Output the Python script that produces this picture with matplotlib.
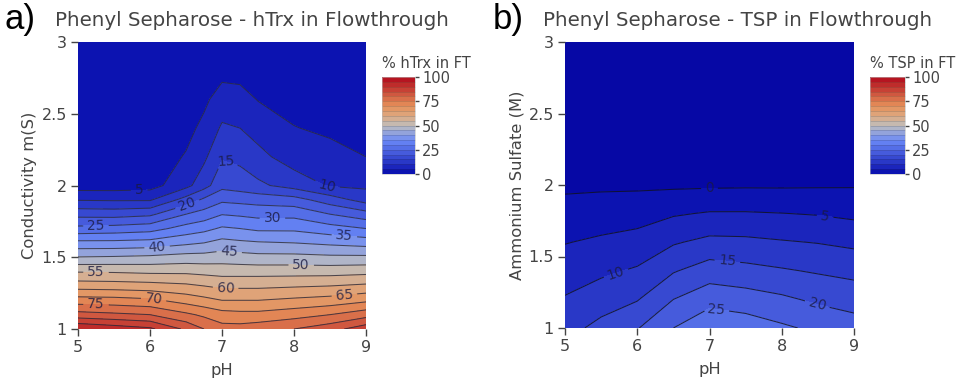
import numpy as np
import matplotlib
matplotlib.use("Agg")
import matplotlib.pyplot as plt
from matplotlib.colors import LinearSegmentedColormap, ListedColormap, BoundaryNorm
from matplotlib.cm import ScalarMappable

# ── Data ──────────────────────────────────────────────────────────────────────
PH_A = [5, 5.5, 6, 6.5, 6.75, 7, 7.25, 7.5, 8, 8.5, 9]
COND_A = [1.0, 1.1, 1.2, 1.3, 1.4, 1.5, 1.6, 1.7, 1.8, 1.9, 2.0, 2.2, 2.4, 2.6, 2.8, 3.0]
HTRX_FT = [
    [95.0, 93.0, 91.0, 84.0, 80.0, 77.0, 77.0, 78.0, 80.0, 83.0, 88.0],
    [82.0, 81.0, 80.0, 76.0, 74.0, 72.0, 71.5, 71.5, 73.0, 75.0, 78.0],
    [72.3, 72.0, 71.0, 68.0, 66.5, 65.0, 65.0, 65.0, 66.0, 67.0, 69.0],
    [62.8, 62.5, 62.0, 61.0, 60.0, 59.0, 59.0, 59.0, 59.5, 60.0, 61.0],
    [54.7, 54.5, 54.0, 54.0, 53.5, 53.0, 53.0, 53.0, 53.0, 53.0, 53.5],
    [45.2, 45.5, 46.0, 47.0, 47.0, 47.5, 47.0, 46.5, 46.5, 46.0, 46.0],
    [36.5, 36.5, 37.0, 39.0, 40.0, 41.7, 41.0, 40.5, 40.0, 39.0, 38.0],
    [26.4, 27.0, 28.0, 32.0, 33.5, 35.7, 35.0, 34.0, 34.0, 32.0, 30.0],
    [18.3, 18.0, 19.0, 25.0, 27.0, 29.8, 29.2, 28.5, 28.5, 25.0, 22.0],
    [9.7, 9.5, 9.5, 17.0, 21.0, 24.0, 23.5, 23.0, 22.0, 17.5, 13.0],
    [2.5, 2.5, 3.0, 8.5, 13.0, 18.5, 17.5, 16.0, 13.0, 9.5, 9.0],
    [2.0, 2.0, 2.0, 5.4, 9.0, 14.5, 13.8, 11.5, 7.5, 6.8, 5.0],
    [1.5, 1.5, 1.5, 3.5, 6.2, 10.7, 10.0, 8.0, 5.2, 4.0, 3.0],
    [1.0, 1.0, 1.0, 2.0, 4.0, 7.2, 6.8, 4.8, 3.0, 2.5, 2.0],
    [1.0, 1.0, 1.0, 1.5, 2.0, 3.5, 3.3, 2.5, 1.5, 1.5, 1.0],
    [1.0, 1.0, 1.0, 1.0, 1.0, 1.5, 1.2, 1.0, 1.0, 1.0, 1.0],
]

PH_B = [5, 5.5, 6, 6.5, 7, 7.5, 8, 8.5, 9]
AMSULF_B = [1.0, 1.2, 1.4, 1.6, 1.8, 2.0, 2.2, 2.6, 3.0]
TSP_FT = [
    [13.2, 16.5, 19.7, 25.0, 29.0, 27.8, 25.8, 24.0, 22.3],
    [10.4, 12.6, 14.7, 20.0, 23.2, 22.3, 20.9, 19.1, 17.9],
    [7.6, 9.1, 10.6, 14.6, 17.4, 16.5, 15.5, 14.5, 13.6],
    [4.8, 5.8, 6.8, 9.5, 11.3, 11.1, 10.4, 9.8, 8.9],
    [1.9, 2.5, 3.0, 4.5, 5.4, 5.4, 5.1, 4.7, 3.9],
    [-0.9, -0.8, -0.8, -0.8, -0.7, -0.6, -0.6, -0.5, -0.4],
    [-2.0, -2.0, -2.0, -2.0, -2.0, -2.0, -2.0, -2.0, -2.0],
    [-3.0, -3.0, -3.0, -3.0, -3.0, -3.0, -3.0, -3.0, -3.0],
    [-3.5, -3.5, -3.5, -3.5, -3.5, -3.5, -3.5, -3.5, -3.5],
]

X_TICKS = [5, 6, 7, 8, 9]
Y_TICKS = [1, 1.5, 2, 2.5, 3]
Y_TICKLABELS = ["1", "1.5", "2", "2.5", "3"]
CB_TICKS = [0, 25, 50, 75, 100]

# contour levels that carry a label, and where the label sits (pH, y)
LABELS_A = [5, 10, 15, 20, 25, 30, 35, 40, 45, 50, 55, 60, 65, 70, 75]
LABEL_POS_A = [(5.85, 1.95), (8.45, 1.97), (7.05, 2.17), (6.5, 1.89), (5.25, 1.71),
               (7.7, 1.78), (8.7, 1.65), (6.1, 1.56), (7.1, 1.54), (8.1, 1.445),
               (5.25, 1.40), (7.05, 1.28), (8.7, 1.24), (6.05, 1.205), (5.25, 1.17)]
LABELS_B = [0, 5, 10, 15, 20, 25]
LABEL_POS_B = [(7.0, 1.975), (8.6, 1.78), (5.7, 1.39), (7.25, 1.48), (8.5, 1.18), (7.1, 1.14)]

# ── Style ─────────────────────────────────────────────────────────────────────
W, H = 965, 384
TXT = "#444444"
plt.rcParams["font.family"] = ["DejaVu Sans"]

# plotly "RdBu" colour scale (blue = low)
rdbu = LinearSegmentedColormap.from_list("plotly_rdbu", [
    (0.00, (5/255, 10/255, 172/255)),
    (0.35, (106/255, 137/255, 247/255)),
    (0.50, (190/255, 190/255, 190/255)),
    (0.60, (220/255, 170/255, 132/255)),
    (0.70, (230/255, 145/255, 90/255)),
    (1.00, (178/255, 10/255, 28/255)),
])
levels = np.arange(0, 105, 5)
band_cols = rdbu((levels[:-1] + 2.5) / 100)
band_cmap = ListedColormap(band_cols)
band_cmap.set_under((6/255, 8/255, 165/255))
band_norm = BoundaryNorm(levels, band_cmap.N)
fill_levels = np.arange(-5, 105, 5)


def px_axes(fig, x0, y0, x1, y1):
    return fig.add_axes([x0 / W, 1 - y1 / H, (x1 - x0) / W, (y1 - y0) / H])


def draw_panel(fig, box, cbox, ph, cond, z, ylabel, title, tag, cb_title,
               tag_x, title_x, lab_levels, lab_pos, line_col):
    ax = px_axes(fig, *box)
    X, Y = np.meshgrid(ph, cond)
    Z = np.array(z)
    ax.contourf(X, Y, Z, levels=fill_levels, cmap=band_cmap, norm=band_norm)

    line_kw = dict(colors=line_col, linewidths=0.75, alpha=0.8)
    plain = [l for l in fill_levels[1:-1] if l not in lab_levels]
    ax.contour(X, Y, Z, levels=plain, **line_kw)
    cs = ax.contour(X, Y, Z, levels=lab_levels, **line_kw)
    ax.clabel(cs, fmt="%d", fontsize=10, colors="#1a1a40",
              inline=True, inline_spacing=4, manual=lab_pos)

    ax.set_xlim(5, 9)
    ax.set_ylim(1, 3)
    ax.set_xticks(X_TICKS)
    ax.set_yticks(Y_TICKS)
    ax.set_yticklabels(Y_TICKLABELS)
    for s in ax.spines.values():
        s.set_visible(False)
    ax.tick_params(length=5, width=1, color=TXT, labelcolor=TXT, labelsize=11.5, pad=3)
    ax.set_xlabel("pH", color=TXT, fontsize=11.8, labelpad=6)
    ax.set_ylabel(ylabel, color=TXT, fontsize=11.8, labelpad=3)

    fig.text(title_x / W, 1 - 21 / H, title, color=TXT, fontsize=14.3, va="center", ha="left")
    fig.text(tag_x / W, 1 - 19 / H, tag, color="black", fontsize=25,
             va="center", ha="left", family="Liberation Sans")

    cax = px_axes(fig, *cbox)
    cb = fig.colorbar(ScalarMappable(norm=band_norm, cmap=band_cmap), cax=cax,
                      ticks=CB_TICKS, drawedges=True)
    cb.minorticks_off()
    cb.dividers.set_color((0.2, 0.2, 0.2, 0.25))
    cb.dividers.set_linewidth(0.5)
    cb.outline.set_linewidth(0.4)
    cb.outline.set_edgecolor("#bbbbbb")
    cax.tick_params(length=3, width=1, color=TXT, labelcolor=TXT, labelsize=10.5, pad=2)
    fig.text(cbox[0] / W, 1 - 63 / H, cb_title, color=TXT, fontsize=10.5, va="center", ha="left")
    return ax


fig = plt.figure(figsize=(W / 100, H / 100), dpi=100)

draw_panel(fig, (78, 42, 366, 329), (382, 77, 415, 174),
           PH_A, COND_A, HTRX_FT, "Conductivity m(S)",
           "Phenyl Sepharose - hTrx in Flowthrough", "a)", "% hTrx in FT", 5, 55,
           LABELS_A, LABEL_POS_A, "#2a2a3a")
draw_panel(fig, (565, 42, 854, 328), (870, 77, 905, 174),
           PH_B, AMSULF_B, TSP_FT, "Ammonium Sulfate (M)",
           "Phenyl Sepharose - TSP in Flowthrough", "b)", "% TSP in FT", 493, 543,
           LABELS_B, LABEL_POS_B, "#101018")

fig.savefig("out.png", dpi=100)
